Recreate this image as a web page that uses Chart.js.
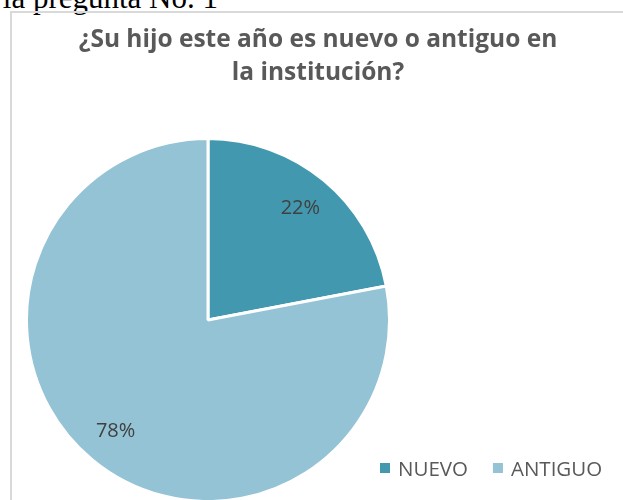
<!DOCTYPE html>
<html><head><meta charset="utf-8">
<script src="https://cdn.jsdelivr.net/npm/chart.js@4"></script>
<style>
html,body{margin:0;padding:0;background:#fff;overflow:hidden;width:623px;height:500px;}
#frame{position:absolute;left:10px;top:11px;width:700px;height:600px;border-left:2px solid #d9d9d9;border-top:2px solid #d9d9d9;}
#pre{position:absolute;right:405px;top:-18px;font:31px/31px "Liberation Serif","Times New Roman",serif;color:#000;white-space:nowrap;}
#title{position:absolute;left:0;width:636px;top:21px;text-align:center;font:bold 24.5px/33px "Open Sans",sans-serif;color:#595959;}
#wrap{position:absolute;left:0;top:0;width:623px;height:500px;}
</style></head>
<body>
<div id="pre">la pregunta No. 1</div>
<div id="frame"></div>
<div id="wrap"><canvas id="c" width="623" height="500"></canvas></div>
<div id="title">¿Su hijo este año es nuevo o antiguo en<br>la institución?</div>
<script>
const categories = ['NUEVO', 'ANTIGUO'];
const values = [22, 78];
const colors = ['#4298AF', '#93C3D5'];

const sliceLabels = {
  id: 'sliceLabels',
  afterDatasetsDraw(chart) {
    const ctx = chart.ctx;
    const meta = chart.getDatasetMeta(0);
    const ds = chart.data.datasets[0];
    const total = ds.data.reduce((a, b) => a + b, 0);
    ctx.save();
    ctx.font = '20px "Open Sans", sans-serif';
    ctx.fillStyle = '#404040';
    ctx.textAlign = 'center';
    ctx.textBaseline = 'middle';
    meta.data.forEach((arc, i) => {
      const p = arc.getProps(['x', 'y', 'startAngle', 'endAngle', 'outerRadius'], true);
      const mid = (p.startAngle + p.endAngle) / 2;
      const r = (p.outerRadius - 1.5) * 0.805;
      ctx.fillText(Math.round(ds.data[i] / total * 100) + '%', p.x + Math.cos(mid) * r, p.y + Math.sin(mid) * r);
    });
    // legend
    ctx.font = '20.5px "Open Sans", sans-serif';
    ctx.textAlign = 'left';
    ctx.textBaseline = 'alphabetic';
    let x = 380;
    const baseline = 476;
    chart.data.labels.forEach((lab, i) => {
      ctx.fillStyle = ds.backgroundColor[i];
      ctx.fillRect(x, 463, 10, 10);
      x += 18;
      ctx.fillStyle = '#595959';
      ctx.fillText(lab, x, baseline);
      x += ctx.measureText(lab).width + 25;
    });
    ctx.restore();
  }
};

new Chart(document.getElementById('c'), {
  type: 'pie',
  data: {
    labels: categories,
    datasets: [{
      data: values,
      backgroundColor: colors,
      borderColor: '#ffffff',
      borderWidth: 3
    }]
  },
  options: {
    responsive: false,
    animation: false,
    radius: 181.5,
    layout: { padding: { left: 28, right: 235, top: 140, bottom: 0 } },
    plugins: {
      legend: { display: false },
      title: { display: false },
      tooltip: { enabled: false }
    }
  },
  plugins: [sliceLabels]
});
</script>
</body></html>
